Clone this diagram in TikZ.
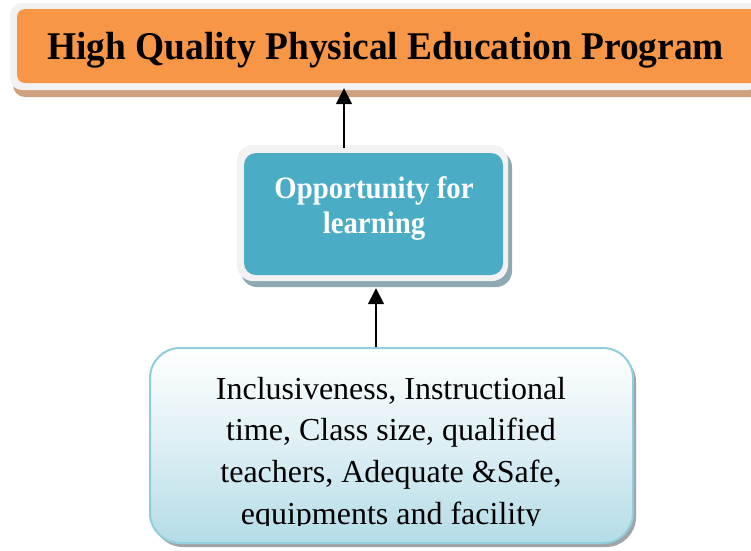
\documentclass[tikz,border=0pt]{standalone}
\usepackage{fontspec}
\setmainfont{Liberation Serif}
\usetikzlibrary{arrows.meta,shadings}
\definecolor{orangeF}{HTML}{F79646}
\definecolor{tanS}{HTML}{CFA17F}
\definecolor{frameG}{HTML}{F2F2F2}
\definecolor{tealF}{HTML}{4BACC6}
\definecolor{tealS}{HTML}{8EA9B2}
\definecolor{blueB}{HTML}{92CDDC}
\definecolor{blueL}{HTML}{B4DCE7}
\definecolor{grayS}{HTML}{9FA4A6}
\tikzset{
  rbox/.style={rectangle, draw=none, inner sep=0pt},
  arr/.style={line width=1.6pt, -{Triangle[width=16pt,length=16pt]}},
  txt/.style={align=center, inner sep=0pt}
}
\begin{document}
\begin{tikzpicture}[x=1pt,y=-1pt]
\useasboundingbox (0,0) rectangle (751,550);
% top box
\node[rbox, rounded corners=12pt, fill=tanS, minimum width=750pt, minimum height=87pt] (topshadow) at (388,53.5) {};
\node[rbox, rounded corners=12pt, fill=frameG, minimum width=750pt, minimum height=87pt] (topouter) at (385,46.5) {};
\node[rbox, rounded corners=8pt, fill=orangeF, minimum width=743pt, minimum height=74pt] (topinner) at (388.5,46) {};
\node[txt, anchor=base, font=\fontsize{37.4}{40}\selectfont\bfseries] (toptext) at (385.5,59) {\scalebox{1}[1.05]{High Quality Physical Education Program}};
% middle box
\node[rbox, rounded corners=16pt, fill=tealS, minimum width=271pt, minimum height=136pt] (midshadow) at (376.5,219) {};
\node[rbox, rounded corners=16pt, fill=frameG, minimum width=271pt, minimum height=136pt] (midouter) at (372.5,213) {};
\node[rbox, rounded corners=12pt, fill=tealF, minimum width=259pt, minimum height=122pt] (midinner) at (373.5,214) {};
\node[txt, anchor=base, text=white, font=\fontsize{28.8}{35}\selectfont\bfseries] (midtext1) at (374,198) {\scalebox{1}[1.08]{Opportunity for}};
\node[txt, anchor=base, text=white, font=\fontsize{28.8}{35}\selectfont\bfseries] (midtext2) at (374,233) {\scalebox{1}[1.08]{learning}};
% bottom box
\node[rbox, rounded corners=30pt, fill=grayS, minimum width=483pt, minimum height=195pt] (botshadow) at (394.5,449.5) {};
\node[rbox, rounded corners=30pt, draw=blueB, line width=2pt, top color=white, bottom color=blueL, middle color=white!55!blueL, minimum width=483pt, minimum height=195pt] (botbox) at (391.5,445.5) {};
\begin{scope}
\clip (150,340) rectangle (640,525.5);
\node[txt, anchor=base, font=\fontsize{32}{42}\selectfont] (bottext1) at (391,399) {Inclusiveness, Instructional};
\node[txt, anchor=base, font=\fontsize{32}{42}\selectfont] (bottext2) at (391,440) {time, Class size, qualified};
\node[txt, anchor=base, font=\fontsize{32}{42}\selectfont] (bottext3) at (391,482) {teachers, Adequate \&Safe,};
\node[txt, anchor=base, font=\fontsize{32}{42}\selectfont] (bottext4) at (391,524) {equipments and facility};
\end{scope}
% arrows
\coordinate (a1) at (344,0);
\coordinate (a2) at (376,0);
\draw[arr] ([yshift=-3pt]midouter.north -| a1) -- ([yshift=9pt]topshadow.south -| a1);
\draw[arr] (botbox.north -| a2) -- ([yshift=-1pt]midshadow.south -| a2);
\end{tikzpicture}
\end{document}
